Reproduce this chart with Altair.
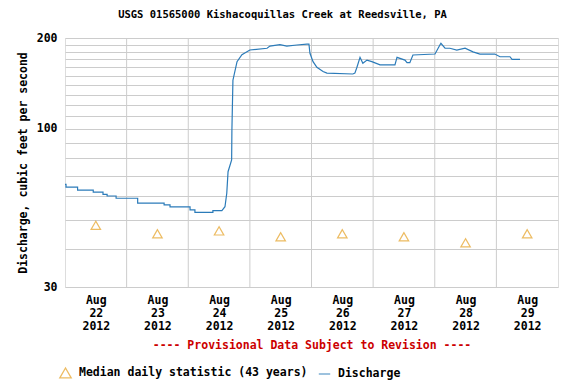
import altair as alt
import pandas as pd

# ---- data ----
hours = [0, 0.4, 0.4, 4.9, 4.9, 11.0, 11.0, 14.8, 14.8, 16.4, 16.4, 19.9, 19.9, 28.3,
         28.3, 38.6, 38.6, 40.9, 40.9, 48.7, 48.7, 50.6, 50.6, 57.6, 57.6, 61.1,
         62.3, 63.0, 63.5, 64.9, 65.0, 65.4, 67.0, 68.9, 72.0, 78.7, 79.8, 83.7,
         86.4, 90.3, 94.2, 95.0, 95.4, 96.6, 98.1, 100.5, 102.0, 112.1, 112.9, 113.7,
         114.9, 116.0, 117.6, 119.5, 122.7, 128.5, 129.3, 132.4, 133.2, 134.3, 135.5,
         144.1, 146.0, 146.4, 148.0, 149.9, 152.6, 155.8, 158.9, 161.6, 167.4, 169.4,
         173.3, 174.1, 177.2]
discharge = [65.6, 65.6, 64.2, 64.2, 62.8, 62.8, 61.8, 61.8, 60.8, 60.8, 60.0, 60.0, 59.0, 59.0,
             56.8, 56.8, 56.1, 56.1, 55.2, 55.2, 54.0, 54.0, 53.0, 53.0, 53.7, 53.7,
             55.3, 61.3, 72.2, 79, 99, 145, 167, 176, 182.5, 185, 188, 190,
             188, 189.6, 191, 191, 178, 167, 160, 155, 153, 152, 153, 160,
             172.6, 165, 169, 167, 163, 163, 172.6, 169, 165.7, 165.7, 175.7,
             177, 189.6, 192, 185, 185, 182.5, 185, 180, 177, 177, 173.4,
             173.4, 170, 170]
median_hours = [12, 36, 60, 84, 108, 132, 156, 180]
median_vals = [48, 45, 46, 44, 45, 44, 42, 45]
day_breaks = [23, 24, 25, 26, 27, 28, 29]
label_days = [22, 23, 24, 25, 26, 27, 28, 29]
y_ticks = [30, 40, 50, 60, 70, 80, 90, 100, 110, 120, 130, 140, 150, 160, 170, 180, 190, 200]

MED = "Median daily statistic (43 years)"
DIS = "Discharge"
FONT = "DejaVu Sans Mono"
FS = 11.5

base = pd.Timestamp("2012-08-22 00:00")


def ts(h):
    return (base + pd.Timedelta(hours=h)).strftime("%Y-%m-%dT%H:%M:%S")


dis_df = pd.DataFrame({"time": [ts(h) for h in hours], "value": discharge, "series": DIS})
med_df = pd.DataFrame({"time": [ts(h) for h in median_hours], "value": median_vals, "series": MED})
grid_df = pd.DataFrame({"time": [f"2012-08-{d:02d}T00:00:00" for d in day_breaks]})

font_kw = dict(
    labelFont=FONT, labelFontSize=FS, labelFontWeight="bold", labelColor="black",
    titleFont=FONT, titleFontSize=FS, titleFontWeight="bold",
)

x_enc = alt.X(
    "time:T",
    scale=alt.Scale(domain=[alt.DateTime(year=2012, month=8, date=22),
                            alt.DateTime(year=2012, month=8, date=30)]),
    axis=alt.Axis(
        values=[alt.DateTime(year=2012, month=8, date=d, hours=12) for d in label_days],
        labelExpr="[timeFormat(datum.value, '%b'), timeFormat(datum.value, '%d'), timeFormat(datum.value, '%Y')]",
        labelLineHeight=13, labelBaseline="top", labelPadding=7,
        labelOverlap=False, labelFlush=False,
        grid=False, ticks=False, domain=False,
        title="---- Provisional Data Subject to Revision ----",
        titleColor="#cc0000", titlePadding=8,
        **font_kw,
    ),
)

y_enc = alt.Y(
    "value:Q",
    scale=alt.Scale(type="log", domain=[30, 200], nice=False),
    axis=alt.Axis(
        values=y_ticks, format="d",
        labelExpr="(datum.value == 30 || datum.value == 100 || datum.value == 200) ? datum.label : ''",
        ticks=False, domain=False, grid=True, gridColor="#cccccc", gridWidth=1,
        labelPadding=8, title="Discharge, cubic feet per second", titlePadding=8,
        titleColor="black",
        **font_kw,
    ),
)

color_scale = alt.Scale(domain=[MED, DIS], range=["#e6a020", "#2b7bb9"])
shape_scale = alt.Scale(domain=[MED, DIS], range=["triangle-up", "stroke"])
legend = alt.Legend(
    title=None, orient="none", legendX=-6, legendY=328, direction="horizontal",
    labelFont=FONT, labelFontSize=FS, labelFontWeight="bold", labelColor="black",
    symbolSize=130, symbolStrokeWidth=1.3, columnPadding=8, labelOffset=7, padding=0,
    labelLimit=400,
)

grid = alt.Chart(grid_df).mark_rule(color="#cccccc", strokeWidth=1).encode(x=x_enc)

line = alt.Chart(dis_df).mark_line(strokeWidth=1.2).encode(
    x=x_enc, y=y_enc,
    color=alt.Color("series:N", scale=color_scale, legend=legend),
)

pts = alt.Chart(med_df).mark_point(filled=False, size=90, strokeWidth=1.2).encode(
    x=x_enc, y=y_enc,
    color=alt.Color("series:N", scale=color_scale, legend=legend),
    shape=alt.Shape("series:N", scale=shape_scale, legend=legend),
)

chart = (
    alt.layer(grid, line, pts)
    .properties(
        width=493, height=249,
        autosize=alt.AutoSizeParams(type="none"),
        padding={"left": 57, "top": 30, "right": 10, "bottom": 96},
        title=alt.TitleParams(
            "USGS 01565000 Kishacoquillas Creek at Reedsville, PA",
            font=FONT, fontSize=10.5, fontWeight="bold", color="black",
            anchor="middle", dx=-29, offset=12,
        ),
    )
    .configure_view(stroke="black", strokeWidth=1)
    .configure(background="white")
)

chart.save("out.html", embed_options={"renderer": "svg", "actions": False})
